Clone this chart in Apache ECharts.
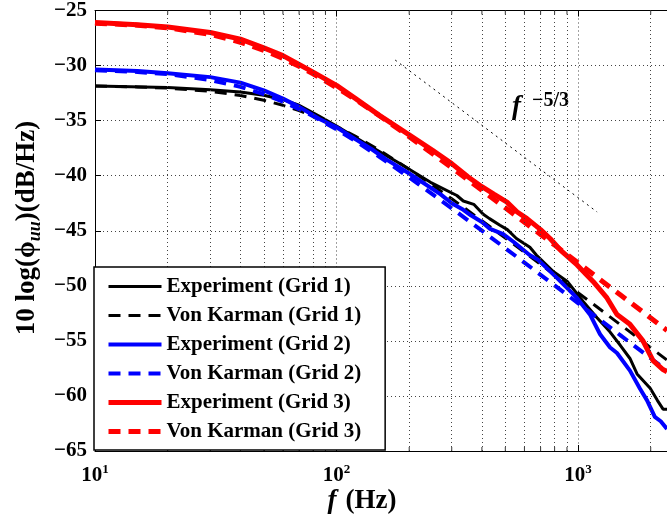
<!DOCTYPE html>
<html>
<head>
<meta charset="utf-8">
<script src="https://cdn.jsdelivr.net/npm/echarts@6/dist/echarts.min.js"></script>
<style>
html,body{margin:0;padding:0;background:#fff;}
#c{width:667px;height:518px;}
</style>
</head>
<body>
<div id="c"></div>
<script>
// ---- data ----
const seriesNames = ['Experiment (Grid 1)','Von Karman (Grid 1)','Experiment (Grid 2)','Von Karman (Grid 2)','Experiment (Grid 3)','Von Karman (Grid 3)'];

const expFreq1 = [10,20,30,40,50,60,70,85,100,130,180,245,315,335,370,405,430,475,510,556,632,672,790,903,1048,1199,1358,1496,1641,1756,1990,2131,2250,2336];
const exp1 = [-31.85,-32.0,-32.2,-32.4,-32.7,-33.1,-33.6,-34.6,-35.5,-37.0,-38.8,-40.6,-41.8,-42.3,-42.6,-43.5,-43.9,-44.5,-44.9,-45.7,-46.5,-47.2,-48.7,-49.6,-51.4,-52.9,-54.2,-55.4,-56.6,-58.0,-59.3,-60.4,-61.2,-61.2];

const expFreq2 = [10,15,20,30,40,50,60,70,85,100,120,140,160,200,270,300,335,360,400,430,490,540,630,680,820,990,1120,1234,1358,1450,1641,1806,1931,2080,2200,2336];
const exp2 = [-30.35,-30.5,-30.7,-31.05,-31.55,-32.25,-33.0,-33.75,-34.85,-35.6,-36.7,-37.6,-38.5,-39.8,-41.7,-42.5,-43.1,-43.6,-44.2,-44.8,-45.3,-46.0,-47.2,-47.6,-49.3,-51.1,-52.6,-54.4,-55.6,-56.1,-57.7,-59.35,-60.4,-61.9,-62.3,-63.0];

const expFreq3 = [10,15,20,30,40,50,60,70,80,100,120,150,200,250,300,350,400,450,508,560,615,700,766,850,991,1154,1318,1450,1641,1858,2045,2249,2336];
const exp3 = [-26.1,-26.3,-26.5,-27.0,-27.6,-28.4,-29.1,-29.9,-30.6,-31.8,-33.0,-34.5,-36.3,-37.7,-38.9,-40.1,-41.0,-41.7,-42.4,-43.3,-43.9,-44.9,-45.7,-46.8,-48.1,-49.6,-51.1,-52.6,-53.5,-55.0,-56.8,-57.6,-57.8];

const vkFreq = [10,15,20,30,40,50,60,70,80,100,120,150,200,250,300,400,500,600,700,800,1000,1200,1500,2000,2336];
const vk1 = [-31.86,-31.94,-32.05,-32.34,-32.72,-33.15,-33.61,-34.09,-34.58,-35.53,-36.43,-37.66,-39.42,-40.87,-42.1,-44.09,-45.66,-46.95,-48.06,-49.01,-50.62,-51.93,-53.54,-55.62,-56.74];
const vk2 = [-30.43,-30.58,-30.78,-31.31,-31.93,-32.6,-33.28,-33.95,-34.6,-35.79,-36.86,-38.26,-40.16,-41.69,-42.96,-44.99,-46.59,-47.89,-49.0,-49.96,-51.57,-52.89,-54.5,-56.58,-57.7];
const vk3 = [-26.15,-26.33,-26.57,-27.17,-27.88,-28.62,-29.36,-30.07,-30.75,-32.0,-33.1,-34.53,-36.46,-38.0,-39.28,-41.33,-42.92,-44.23,-45.34,-46.3,-47.91,-49.23,-50.84,-52.92,-54.05];

// -5/3 reference segment end points
const refFreq = [175, 1200];
const refVal = [-29.5, -43.3];

// axis
const xMin = 10, xMax = 2336;
const yMin = -65, yMax = -25, yStep = 5;
const minorFreqs = [20,30,40,50,60,70,80,90,200,300,400,500,600,700,800,900,2000];

const zip = (xs, ys) => xs.map((x, i) => [x, ys[i]]);
const FONT = '"Liberation Serif","Times New Roman",serif';

const chart = echarts.init(document.getElementById('c'), null, {renderer: 'canvas'});

function lineSeries(name, xs, ys, color, width, dashed) {
  return {
    name, type: 'line', data: zip(xs, ys), symbol: 'none', smooth: false,
    lineStyle: {color, width, type: dashed ? [12, 8] : 'solid', cap: 'butt'},
    itemStyle: {color},
    z: 3, animation: false
  };
}

const option = {
  animation: false,
  backgroundColor: '#fff',
  grid: {left: 95, right: 0, top: 7, bottom: 67},
  xAxis: [{
    type: 'log', logBase: 10, min: xMin, max: xMax,
    axisLine: {show: true, onZero: false, lineStyle: {color: '#000', width: 1}},
    axisTick: {show: true, inside: true, length: 6, lineStyle: {color: '#000'}},
    axisLabel: {
      show: true, margin: 12, showMaxLabel: false, color: '#000',
      formatter: v => '{b|10}{s|' + Math.round(Math.log10(v)) + '}',
      rich: {
        b: {fontFamily: FONT, fontWeight: 'bold', fontSize: 21, lineHeight: 26, color: '#000'},
        s: {fontFamily: FONT, fontWeight: 'bold', fontSize: 13, lineHeight: 13, verticalAlign: 'top', color: '#000'}
      }
    },
    splitLine: {show: true, lineStyle: {color: '#444', width: 1, type: [1, 3]}}
  }, {
    type: 'log', logBase: 10, min: xMin, max: xMax, position: 'top',
    axisLine: {show: true, onZero: false, lineStyle: {color: '#000', width: 1}},
    axisTick: {show: true, inside: true, length: 6, lineStyle: {color: '#000'}},
    axisLabel: {show: false}, splitLine: {show: false}
  }],
  yAxis: {
    type: 'value', min: yMin, max: yMax, interval: yStep,
    axisLine: {show: true, onZero: false, lineStyle: {color: '#000', width: 1}},
    axisTick: {show: true, inside: true, length: 6, lineStyle: {color: '#000'}},
    axisLabel: {
      margin: 8, color: '#000', fontFamily: FONT, fontWeight: 'bold', fontSize: 21,
      formatter: v => String(v).replace('-', '\u2212')
    },
    splitLine: {show: true, lineStyle: {color: '#444', width: 1, type: [1, 3]}}
  },
  legend: {
    data: seriesNames, orient: 'vertical', left: 94, top: 267,
    itemWidth: 53, itemHeight: 14, itemGap: 8,
    padding: [9, 24, 8, 12],
    backgroundColor: '#fff', borderColor: '#000', borderWidth: 1.5,
    itemStyle: {opacity: 0},
    lineStyle: {width: 'inherit'},
    textStyle: {fontFamily: FONT, fontWeight: 'bold', fontSize: 21, color: '#000'},
    selectedMode: false, z: 10
  },
  series: [
    lineSeries(seriesNames[0], expFreq1, exp1, '#000000', 3, false),
    lineSeries(seriesNames[1], vkFreq, vk1, '#000000', 3, true),
    lineSeries(seriesNames[2], expFreq2, exp2, '#0000ff', 4, false),
    lineSeries(seriesNames[3], vkFreq, vk2, '#0000ff', 4, true),
    lineSeries(seriesNames[4], expFreq3, exp3, '#ff0000', 5, false),
    lineSeries(seriesNames[5], vkFreq, vk3, '#ff0000', 5, true),
    {
      name: 'ref', type: 'line', data: zip(refFreq, refVal), symbol: 'none',
      lineStyle: {color: '#000', width: 1, type: [2, 4]}, z: 2,
      markLine: {
        silent: true, symbol: 'none', label: {show: false},
        lineStyle: {color: '#444', width: 1, type: [1, 3]},
        data: minorFreqs.map(f => ({xAxis: f}))
      }
    },
    {
      name: 'minorTicksBottom', type: 'scatter', symbol: 'rect', symbolSize: [1, 4],
      symbolOffset: [0, -2], data: minorFreqs.map(f => [f, yMin]),
      itemStyle: {color: '#000'}, silent: true, z: 4
    },
    {
      name: 'minorTicksTop', type: 'scatter', symbol: 'rect', symbolSize: [1, 4],
      symbolOffset: [0, 2], data: minorFreqs.map(f => [f, yMax]),
      itemStyle: {color: '#000'}, silent: true, z: 4
    }
  ],
  graphic: [
    {
      type: 'text', x: 27, y: 228, rotation: Math.PI / 2,
      style: {
        text: '{a|10 log(\u03D5}{s|uu}{a|)(dB/Hz)}',
        align: 'center', verticalAlign: 'middle',
        rich: {
          a: {fontFamily: FONT, fontWeight: 'bold', fontSize: 27, lineHeight: 34, fill: '#000'},
          s: {fontFamily: FONT, fontWeight: 'bold', fontStyle: 'italic', fontSize: 18, lineHeight: 17, verticalAlign: 'bottom', fill: '#000'}
        }
      }
    },
    {
      type: 'text', x: 362, y: 501,
      style: {
        text: '{i|f}{a|(Hz)}',
        align: 'center', verticalAlign: 'middle',
        rich: {
          i: {fontFamily: FONT, fontWeight: 'bold', fontStyle: 'italic', fontSize: 27, padding: [0, 9, 0, 0], fill: '#000'},
          a: {fontFamily: FONT, fontWeight: 'bold', fontSize: 27, fill: '#000'}
        }
      }
    },
    {
      type: 'text', x: 512, y: 91,
      style: {
        text: '{f|f}{s|\u22125/3}',
        align: 'left', verticalAlign: 'top',
        rich: {
          f: {fontFamily: FONT, fontWeight: 'bold', fontStyle: 'italic', fontSize: 27, lineHeight: 32, fill: '#000'},
          s: {fontFamily: FONT, fontWeight: 'bold', fontSize: 20, lineHeight: 20, verticalAlign: 'top', padding: [0, 0, 0, 11], fill: '#000'}
        }
      }
    }
  ]
};
chart.setOption(option);
</script>
</body>
</html>
